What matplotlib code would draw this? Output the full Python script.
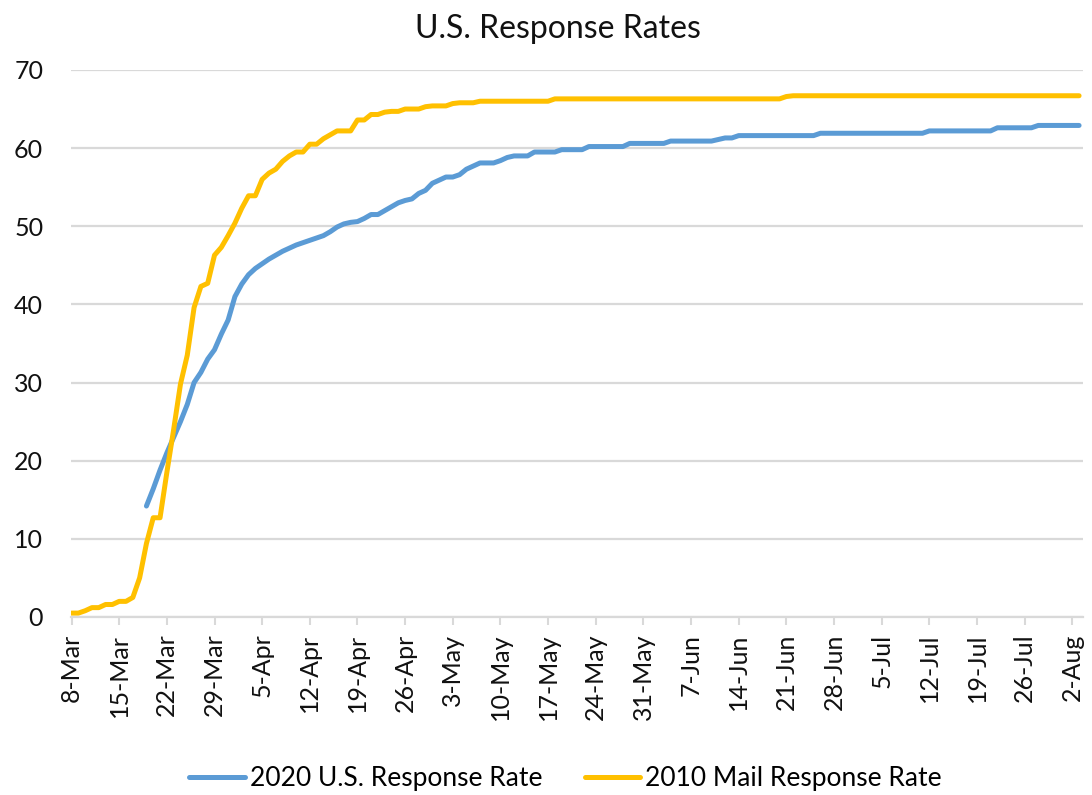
import numpy as np
import pandas as pd
import matplotlib
matplotlib.use("Agg")
import matplotlib.pyplot as plt

plt.rcParams['font.family'] = ['Lato', 'DejaVu Sans']

start_date = "2020-03-08"
end_date = "2020-08-03"

# 2020 U.S. Response Rate (first reported 19-Mar)
rate_2020 = [np.nan] * 11 + [
    14.2, 16.4, 18.8, 21.0, 23.0, 25.0, 27.2, 30.0, 31.3, 33.0,
    34.2, 36.2, 38.0, 41.0, 42.6, 43.8, 44.6, 45.2, 45.8, 46.3,
    46.8, 47.2, 47.6, 47.9, 48.2, 48.5, 48.8, 49.3, 49.9, 50.3,
    50.5, 50.6, 51.0, 51.5, 51.5, 52.0, 52.5, 53.0, 53.3, 53.5,
    54.2, 54.6, 55.5, 55.9, 56.3, 56.3, 56.6, 57.3, 57.7, 58.1,
    58.1, 58.1, 58.4, 58.8, 59.0, 59.0, 59.0, 59.5, 59.5, 59.5,
    59.5, 59.8, 59.8, 59.8, 59.8, 60.2, 60.2, 60.2, 60.2, 60.2,
    60.2, 60.6, 60.6, 60.6, 60.6, 60.6, 60.6, 60.9, 60.9, 60.9,
    60.9, 60.9, 60.9, 60.9, 61.1, 61.3, 61.3, 61.6, 61.6, 61.6,
    61.6, 61.6, 61.6, 61.6, 61.6, 61.6, 61.6, 61.6, 61.6, 61.9,
    61.9, 61.9, 61.9, 61.9, 61.9, 61.9, 61.9, 61.9, 61.9, 61.9,
    61.9, 61.9, 61.9, 61.9, 61.9, 62.2, 62.2, 62.2, 62.2, 62.2,
    62.2, 62.2, 62.2, 62.2, 62.2, 62.6, 62.6, 62.6, 62.6, 62.6,
    62.6, 62.9, 62.9, 62.9, 62.9, 62.9, 62.9, 62.9,
]

# 2010 Mail Response Rate
rate_2010 = [
    0.5, 0.5, 0.8, 1.2, 1.2, 1.6, 1.6, 2.0, 2.0, 2.5,
    5.0, 9.4, 12.7, 12.7, 18.5, 24.0, 29.8, 33.5, 39.6, 42.3,
    42.7, 46.3, 47.3, 48.8, 50.4, 52.3, 53.9, 53.9, 56.0, 56.8,
    57.3, 58.3, 59.0, 59.5, 59.5, 60.5, 60.5, 61.2, 61.7, 62.2,
    62.2, 62.2, 63.6, 63.6, 64.3, 64.3, 64.6, 64.7, 64.7, 65.0,
    65.0, 65.0, 65.3, 65.4, 65.4, 65.4, 65.7, 65.8, 65.8, 65.8,
    66.0, 66.0, 66.0, 66.0, 66.0, 66.0, 66.0, 66.0, 66.0, 66.0,
    66.0, 66.3, 66.3, 66.3, 66.3, 66.3, 66.3, 66.3, 66.3, 66.3,
    66.3, 66.3, 66.3, 66.3, 66.3, 66.3, 66.3, 66.3, 66.3, 66.3,
    66.3, 66.3, 66.3, 66.3, 66.3, 66.3, 66.3, 66.3, 66.3, 66.3,
    66.3, 66.3, 66.3, 66.3, 66.3, 66.6, 66.7, 66.7, 66.7, 66.7,
    66.7, 66.7, 66.7, 66.7, 66.7, 66.7, 66.7, 66.7, 66.7, 66.7,
    66.7, 66.7, 66.7, 66.7, 66.7, 66.7, 66.7, 66.7, 66.7, 66.7,
    66.7, 66.7, 66.7, 66.7, 66.7, 66.7, 66.7, 66.7, 66.7, 66.7,
    66.7, 66.7, 66.7, 66.7, 66.7, 66.7, 66.7, 66.7, 66.7,
]

series_labels = ["2020 U.S. Response Rate", "2010 Mail Response Rate"]
y_ticks = [0, 10, 20, 30, 40, 50, 60, 70]

dates = pd.date_range(start_date, end_date, freq="D")
tick_dates = pd.date_range(start_date, end_date, freq="7D")

BLUE = "#5B9BD5"
GOLD = "#FFC000"
GRID = "#D9D9D9"
TEXT = "#111111"

fig = plt.figure(figsize=(10.92, 7.95), dpi=100)
ax = fig.add_axes([0.065, 0.2239, 0.9268, 0.6881])

ax.plot(dates, rate_2020, color=BLUE, lw=3.6, solid_capstyle="round",
        solid_joinstyle="round", label=series_labels[0], zorder=3)
ax.plot(dates, rate_2010, color=GOLD, lw=3.6, solid_capstyle="round",
        solid_joinstyle="round", label=series_labels[1], zorder=3)

ax.set_ylim(0, 70)
ax.set_yticks(y_ticks)
ax.set_xlim(dates[0] - pd.Timedelta(hours=2), dates[-1] + pd.Timedelta(hours=14))
ax.set_xticks(tick_dates)
ax.set_xticklabels([f"{d.day}-{d.strftime('%b')}" for d in tick_dates],
                   rotation=90, fontsize=18, color=TEXT)
ax.tick_params(axis="y", length=0, labelsize=18, labelcolor=TEXT, pad=20)
ax.tick_params(axis="x", length=6, width=1.5, color=GRID, pad=6)

ax.grid(axis="y", color=GRID, lw=1.6, zorder=0)
ax.set_axisbelow(True)
for s in ["top", "right", "left"]:
    ax.spines[s].set_visible(False)
ax.spines["bottom"].set_color(GRID)
ax.spines["bottom"].set_linewidth(1.6)

fig.suptitle("U.S. Response Rates", x=0.511, y=0.983, fontsize=23, color=TEXT,
             va="top")

leg = fig.legend(loc="center", bbox_to_anchor=(0.518, 0.021), ncol=2,
                 frameon=False, fontsize=19, handlelength=2.1,
                 handletextpad=0.2, columnspacing=1.6)
for line in leg.get_lines():
    line.set_linewidth(3.6)

fig.savefig("out.png", dpi=100)
